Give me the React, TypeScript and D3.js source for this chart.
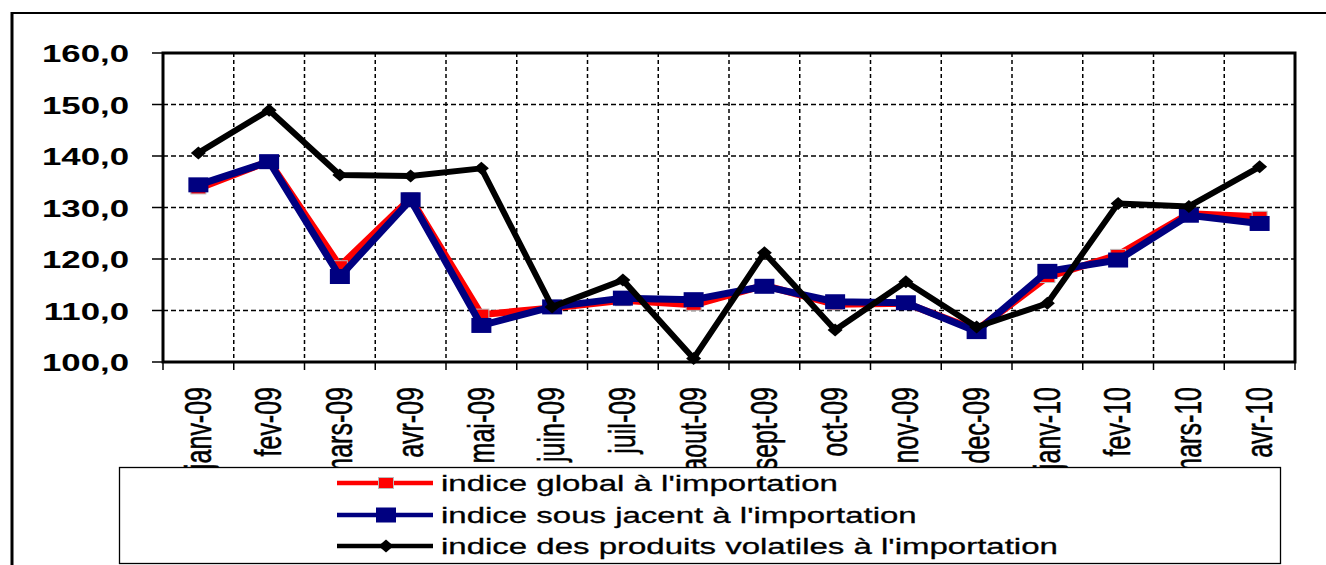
import React from 'react';
import * as d3 from 'd3';

// months shown on the x axis
const months = ['janv-09', 'fev-09', 'mars-09', 'avr-09', 'mai-09', 'juin-09', 'juil-09', 'aout-09',
  'sept-09', 'oct-09', 'nov-09', 'dec-09', 'janv-10', 'fev-10', 'mars-10', 'avr-10'];

const globalIdx = [133.7, 139.0, 118.6, 131.8, 109.2, 110.5, 112.0, 111.1, 114.9, 111.2, 111.4, 106.2, 116.5, 120.8, 128.8, 128.2];
const sousJacent = [134.4, 138.9, 116.6, 131.5, 107.1, 110.7, 112.4, 112.1, 114.7, 111.7, 111.5, 105.9, 117.6, 119.8, 128.5, 126.9];
const volatiles = [140.6, 148.9, 136.3, 136.1, 137.6, 110.7, 115.9, 100.7, 121.2, 106.2, 115.6, 106.8, 111.4, 130.8, 130.2, 137.9];

const yTicks = [100, 110, 120, 130, 140, 150, 160];
const legendLabels = [
  "indice global à l'importation",
  "indice sous jacent à l'importation",
  "indice des produits volatiles à l'importation",
];

const W = 1326, H = 565;
const left = 163, right = 1295, top = 53, bottom = 362;
const FONT = '"Liberation Sans", Arial, sans-serif';

export default function App() {
  const x = d3.scaleBand().domain(months).range([left, right]);
  const y = d3.scaleLinear().domain([100, 160]).range([bottom, top]);
  const cx = (m) => x(m) + x.bandwidth() / 2;

  const line = d3.line().x((d, i) => cx(months[i])).y(d => y(d));
  const fmt = (v) => d3.format('.1f')(v).replace('.', ',');

  const bounds = months.map(m => x(m)).concat([right]);

  // square marker, stretched wider like the original
  const square = (key, px, py, w, h, fill, stroke) => (
    <rect key={key} x={px - w / 2} y={py - h / 2} width={w} height={h} fill={fill} stroke={stroke} strokeWidth={stroke ? 1 : 0} />
  );
  const diamond = (key, px, py, w, h) => (
    <path key={key} d={`M${px - w / 2},${py}L${px},${py - h / 2}L${px + w / 2},${py}L${px},${py + h / 2}Z`} fill="#000" />
  );

  const series = [
    { values: globalIdx, color: '#ff0000', width: 7, marker: (k, px, py) => square(k, px, py, 15, 11, '#ff0000', '#bbbbbb') },
    { values: sousJacent, color: '#000080', width: 7, marker: (k, px, py) => square(k, px, py, 20, 15, '#000080') },
    { values: volatiles, color: '#000000', width: 6, marker: (k, px, py) => diamond(k, px, py, 15, 13) },
  ];

  const legendRows = [483, 515, 546];

  return (
    <svg width={W} height={H} style={{ position: 'absolute', left: 0, top: 0, background: '#fff' }} fontFamily={FONT}>
      {/* outer frame (left and top only visible) */}
      <line x1={12} y1={13} x2={W} y2={13} stroke="#000" strokeWidth={2} />
      <line x1={12} y1={12} x2={12} y2={H} stroke="#000" strokeWidth={3} />

      {/* grid */}
      {yTicks.slice(1, -1).map(t => (
        <line key={'hg' + t} x1={left} x2={right} y1={y(t)} y2={y(t)} stroke="#000" strokeWidth={1.5} strokeDasharray="5,3" />
      ))}
      {bounds.slice(1, -1).map((b, i) => (
        <line key={'vg' + i} x1={b} x2={b} y1={top} y2={bottom} stroke="#000" strokeWidth={1.5} strokeDasharray="4,3" />
      ))}

      {/* ticks */}
      {yTicks.map(t => (
        <line key={'yt' + t} x1={152} x2={left} y1={y(t)} y2={y(t)} stroke="#000" strokeWidth={1.5} />
      ))}
      {bounds.map((b, i) => (
        <line key={'xt' + i} x1={b} x2={b} y1={bottom} y2={bottom + 8} stroke="#000" strokeWidth={1.5} />
      ))}

      {/* plot frame */}
      <rect x={left} y={top} width={right - left} height={bottom - top} fill="none" stroke="#000" strokeWidth={3} />

      {/* y labels */}
      {yTicks.map(t => (
        <text key={'yl' + t} transform={`translate(129,${y(t) + 1}) scale(1.45,1)`} textAnchor="end"
          dominantBaseline="central" fontSize={24} fontWeight="bold" fill="#000">{fmt(t)}</text>
      ))}

      {/* x labels */}
      {months.map(m => (
        <text key={'xl' + m} transform={`translate(${cx(m)},387) scale(1.45,1) rotate(-90)`} textAnchor="end"
          dominantBaseline="central" fontSize={25} fill="#000" stroke="#000" strokeWidth={0.4}>{m}</text>
      ))}

      {/* series */}
      {series.map((s, si) => (
        <g key={'s' + si}>
          <path d={line(s.values)} fill="none" stroke={s.color} strokeWidth={s.width} strokeLinejoin="round" />
          {s.values.map((v, i) => s.marker(si + '-' + i, cx(months[i]), y(v)))}
        </g>
      ))}

      {/* legend */}
      <rect x={119.5} y={467.5} width={1161} height={96} fill="#fff" stroke="#000" strokeWidth={1.3} />
      {series.map((s, i) => (
        <g key={'lg' + i}>
          <line x1={337} x2={433} y1={legendRows[i]} y2={legendRows[i]} stroke={s.color} strokeWidth={4.5} />
          {s.marker('lm' + i, 386, legendRows[i])}
          <text transform={`translate(441,${legendRows[i] + 1}) scale(1.5,1)`} dominantBaseline="central"
            fontSize={22} fill="#000" stroke="#000" strokeWidth={0.3}>{legendLabels[i]}</text>
        </g>
      ))}
    </svg>
  );
}
